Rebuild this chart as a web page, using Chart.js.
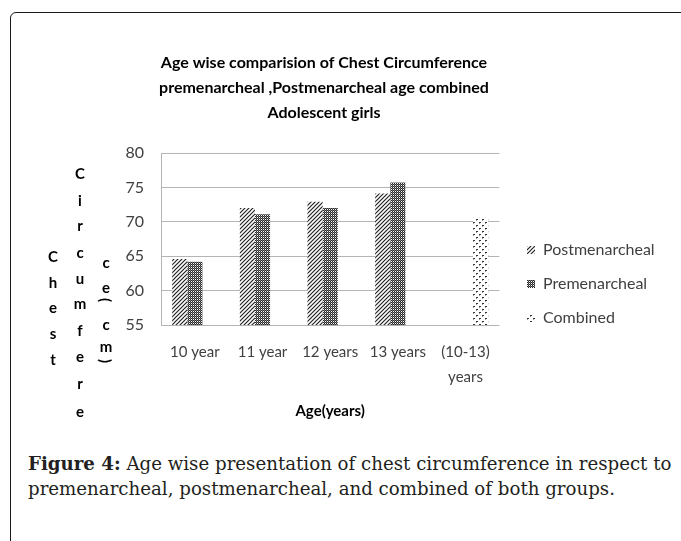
<!DOCTYPE html>
<html>
<head>
<meta charset="utf-8">
<script src="https://cdn.jsdelivr.net/npm/chart.js@4.4.1/dist/chart.umd.min.js"></script>
<style>
  body { margin: 0; background: #fff; width: 681px; height: 541px; overflow: hidden; position: relative; }
  .frame { position: absolute; left: 10px; top: 12px; width: 700px; height: 600px;
           border: 1.5px solid #1a1a1a; border-top-left-radius: 6px; box-sizing: border-box; }
  .wrap { position: absolute; left: -7px; top: 0; width: 680px; height: 420px; }
  .yl { position: absolute; font: bold 15px Lato, sans-serif; color: #000; transform: translate(-50%, -50%); }
  .caption { position: absolute; left: 28px; top: 451px; width: 660px; font: 18.2px "DejaVu Serif", serif;
             line-height: 25px; color: #231f20; white-space: nowrap; }
</style>
</head>
<body>
<div class="frame"></div>
<div class="wrap"><canvas id="chart" width="680" height="420"></canvas></div>
<div id="ytitle"></div>
<div class="caption"><b>Figure 4:</b> Age wise presentation of chest circumference in respect to<br>premenarcheal, postmenarcheal, and combined of both groups.</div>
<script>
var categories = ["10 year", "11 year", "12 years", "13 years", ["(10-13)", "years"]];
var postValues = [64.6, 72.0, 72.9, 74.1, null];
var preValues = [64.2, 71.1, 72.0, 75.7, null];
var combinedValues = [null, null, null, null, 70.6];
var seriesNames = ["Postmenarcheal", "Premenarcheal", "Combined"];
var titleLines = ["Age wise comparision of Chest Circumference",
  "premenarcheal ,Postmenarcheal age combined", "Adolescent girls"];

// stacked letters of the y axis title, as Excel wrapped it
var yTitleCols = [
  { x: 53, chars: ["C", "h", "e", "s", "t"], ys: [256, 282, 307, 333, 359] },
  { x: 80, chars: ["C", "i", "r", "c", "u", "m", "f", "e", "r", "e"], ys: [173, 200, 225, 252, 278, 303, 330, 356, 383, 411] },
  { x: 106, chars: ["c", "e", "(", "c", "m", ")"], ys: [262, 287, 300, 324, 346, 361] }
];
var yt = document.getElementById("ytitle");
yTitleCols.forEach(function (col) {
  col.chars.forEach(function (ch, i) {
    var s = document.createElement("span");
    s.className = "yl";
    s.textContent = ch;
    s.style.left = col.x + "px";
    s.style.top = col.ys[i] + "px";
    if (ch == "(" || ch == ")") s.style.transform = "translate(-50%, -50%) rotate(90deg)";
    yt.appendChild(s);
  });
});

function makePattern(size, draw) {
  var c = document.createElement("canvas");
  c.width = size; c.height = size;
  var g = c.getContext("2d");
  g.fillStyle = "#fff";
  g.fillRect(0, 0, size, size);
  draw(g);
  return document.getElementById("chart").getContext("2d").createPattern(c, "repeat");
}
var hatch = makePattern(4, function (g) {
  g.strokeStyle = "#222";
  g.lineWidth = 1.2;
  g.beginPath();
  g.moveTo(-1, 5); g.lineTo(5, -1);
  g.moveTo(-1, 1); g.lineTo(1, -1);
  g.moveTo(3, 5); g.lineTo(5, 3);
  g.stroke();
});
var dense = makePattern(2, function (g) {
  g.fillStyle = "#2a2a2a";
  g.fillRect(0, 0, 1, 1);
  g.fillRect(1, 1, 1, 1);
  g.fillStyle = "#777";
  g.fillRect(1, 0, 1, 1);
});
var sparse = makePattern(6, function (g) {
  g.fillStyle = "#333";
  g.fillRect(0, 0, 2, 1);
  g.fillRect(3, 3, 2, 1);
  g.fillStyle = "#999";
  g.fillRect(0, 1, 1, 1);
  g.fillRect(3, 4, 1, 1);
});

// put the legend where Excel had it, right of the plot
var legendMover = {
  id: "legendMover",
  afterLayout: function (chart) {
    var l = chart.legend;
    var h = l.bottom - l.top;
    l.left = 516; l.right = l.left + l.width;
    l.top = 224; l.bottom = l.top + h;
  }
};

new Chart("chart", {
  type: "bar",
  data: {
    labels: categories,
    datasets: [
      { label: seriesNames[0], data: postValues, backgroundColor: hatch },
      { label: seriesNames[1], data: preValues, backgroundColor: dense },
      { label: seriesNames[2], data: combinedValues, backgroundColor: sparse }
    ]
  },
  plugins: [legendMover],
  options: {
    responsive: false,
    animation: false,
    maintainAspectRatio: false,
    categoryPercentage: 0.67,
    barPercentage: 1,
    layout: { padding: { left: 0, right: 18, top: 0, bottom: 0 } },
    plugins: {
      title: {
        display: true,
        text: titleLines,
        color: "#000",
        font: { family: "Lato", size: 16, weight: "bold", lineHeight: "25px" },
        padding: { top: 50, bottom: 28 }
      },
      legend: {
        position: "right",
        align: "start",
        labels: {
          boxWidth: 8, boxHeight: 8, padding: 18,
          color: "#404040",
          font: { family: "Lato", size: 16 }
        }
      },
      tooltip: { enabled: false }
    },
    scales: {
      x: {
        grid: { display: false, drawTicks: false },
        border: { display: false },
        ticks: { color: "#404040", padding: 15, maxRotation: 0, autoSkip: false,
                 font: { family: "Lato", size: 15, lineHeight: "25px" } },
        title: { display: true, text: "Age(years)", color: "#000",
                 font: { family: "Lato", size: 15, weight: "bold" }, padding: { top: 7, bottom: 0 } },
        afterFit: function (s) { s.height = 95; }
      },
      y: {
        min: 55, max: 80,
        ticks: { stepSize: 5, color: "#404040", padding: 17, font: { family: "Lato", size: 16 } },
        grid: { color: "#b4b4b4", drawTicks: false },
        border: { color: "#b4b4b4" },
        afterFit: function (s) { s.width = 168; }
      }
    }
  }
});
</script>
</body>
</html>
